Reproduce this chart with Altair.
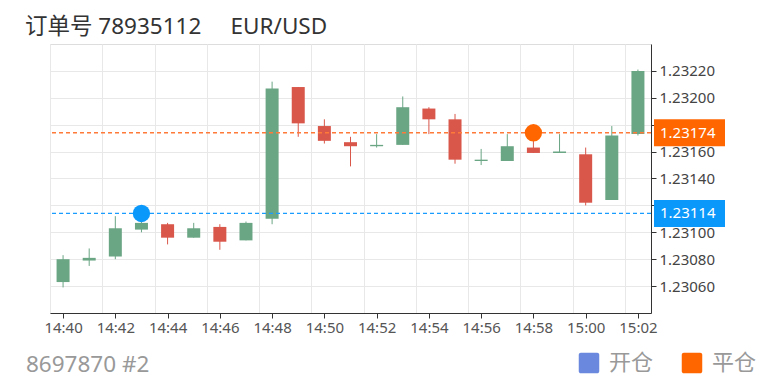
import altair as alt
import pandas as pd

# ---------------- data ----------------
TIMES = ["14:40", "14:41", "14:42", "14:43", "14:44", "14:45", "14:46", "14:47",
         "14:48", "14:49", "14:50", "14:51", "14:52", "14:53", "14:54", "14:55",
         "14:56", "14:57", "14:58", "14:59", "15:00", "15:01", "15:02"]
OPEN = [1.23063, 1.23079, 1.23082, 1.23102, 1.23106, 1.23096, 1.23104, 1.23094,
        1.23110, 1.23208, 1.23179, 1.23167, 1.23164, 1.23165, 1.23192, 1.23184,
        1.23153, 1.23153, 1.23163, 1.23159, 1.23158, 1.23124, 1.23173]
CLOSE = [1.23080, 1.23081, 1.23103, 1.23107, 1.23096, 1.23103, 1.23093, 1.23107,
         1.23207, 1.23181, 1.23168, 1.23164, 1.23165, 1.23193, 1.23184, 1.23154,
         1.23154, 1.23164, 1.23159, 1.23160, 1.23122, 1.23172, 1.23220]
HIGH = [1.23083, 1.23088, 1.23112, 1.23109, 1.23107, 1.23107, 1.23106, 1.23108,
        1.23212, 1.23208, 1.23184, 1.23171, 1.23173, 1.23201, 1.23193, 1.23188,
        1.23162, 1.23173, 1.23172, 1.23173, 1.23163, 1.23179, 1.23221]
LOW = [1.23059, 1.23075, 1.23080, 1.23100, 1.23091, 1.23096, 1.23087, 1.23094,
       1.23106, 1.23171, 1.23166, 1.23149, 1.23163, 1.23165, 1.23173, 1.23151,
       1.23150, 1.23153, 1.23159, 1.23159, 1.23120, 1.23124, 1.23172]

MARK_KIND = ["开仓", "平仓"]
MARK_TIME = [3, 18]
MARK_PRICE = [1.23114, 1.23174]
MARK_COLOR = ["#0a98fb", "#ff6600"]
LINE_COLOR = ["#1a9cff", "#ff7a38"]
LEGEND_COLOR = ["#6a88de", "#ff6600"]

Y_TICKS = [1.2306, 1.2308, 1.2310, 1.2312, 1.2314, 1.2316, 1.2318, 1.2320, 1.2322]
Y_DOMAIN = [1.2304, 1.2324]

TITLE = "订单号 78935112\u00a0\u00a0\u00a0\u00a0\u00a0EUR/USD"
FOOTER = "8697870 #2"

GREEN = "#6aa584"
RED = "#d9564a"
FONT = "Noto Sans, Noto Sans CJK SC"

# ---------------- tables ----------------
df = pd.DataFrame({"i": list(range(len(TIMES))), "t": TIMES, "open": OPEN,
                   "close": CLOSE, "high": HIGH, "low": LOW})
marks = pd.DataFrame({"kind": MARK_KIND, "i": MARK_TIME, "price": MARK_PRICE,
                      "c": MARK_COLOR, "lc": LINE_COLOR,
                      "label": [f"{p:.5f}" for p in MARK_PRICE]})

label_expr = "[" + ",".join(f"'{t}'" for t in TIMES) + "][datum.value]"

xscale = alt.Scale(domain=[-0.5, len(TIMES) - 0.5], nice=False, zero=False, padding=0)
yscale = alt.Scale(domain=Y_DOMAIN, nice=False, zero=False)

x_axis = alt.Axis(values=list(range(0, len(TIMES), 2)), labelExpr=label_expr,
                  grid=False, title=None, domainColor="#333", tickColor="#333",
                  tickSize=5, labelColor="#555", labelFontSize=15, labelPadding=2,
                  labelFlush=False)
grid_axis = alt.Axis(orient="top", values=[v - 0.5 for v in range(0, len(TIMES), 2)],
                     grid=True, gridColor="#e8e8e8", labels=False, ticks=False,
                     domain=False, title=None)
y_axis = alt.Axis(orient="right", values=Y_TICKS, format=".5f", grid=True,
                  gridColor="#e8e8e8", title=None, domainColor="#333",
                  tickColor="#333", tickSize=5, labelColor="#444",
                  labelFontSize=15, labelPadding=3)

color = alt.condition("datum.open <= datum.close", alt.value(GREEN), alt.value(RED))

base = alt.Chart(df)
wick = base.mark_rule(strokeWidth=1).encode(
    x=alt.X("i:Q", scale=xscale, axis=x_axis),
    y=alt.Y("low:Q", scale=yscale, axis=y_axis),
    y2="high:Q",
    color=color,
)
body = base.mark_bar(size=13).encode(
    x=alt.X("i:Q", axis=None),
    y=alt.Y("open:Q", axis=None),
    y2="close:Q",
    color=color,
)

mbase = alt.Chart(marks)
dashed = mbase.mark_rule(strokeDash=[4, 3], strokeWidth=1.3).encode(
    y=alt.Y("price:Q", axis=None),
    color=alt.Color("lc:N", scale=None),
)
points = mbase.mark_point(filled=True, size=300, opacity=1).encode(
    x=alt.X("i:Q", axis=None),
    y=alt.Y("price:Q", axis=None),
    color=alt.Color("c:N", scale=None),
)

ROUNDED = ("M-0.8,-1 H0.8 A0.2,0.2 0 0 1 1,-0.8 V0.8 A0.2,0.2 0 0 1 0.8,1 "
           "H-0.8 A0.2,0.2 0 0 1 -1,0.8 V-0.8 A0.2,0.2 0 0 1 -0.8,-1 Z")
legend_layer = mbase.mark_square(size=0, opacity=1, filled=True).encode(
    x=alt.X("i:Q", axis=grid_axis),
    y=alt.Y("price:Q", axis=None),
    color=alt.Color("kind:N", scale=alt.Scale(domain=MARK_KIND, range=LEGEND_COLOR),
                    legend=alt.Legend(title=None, orient="none", legendX=528,
                                      legendY=308, direction="horizontal",
                                      symbolType=ROUNDED, symbolSize=420,
                                      symbolOpacity=1, symbolStrokeWidth=0,
                                      labelFontSize=22, labelColor="#999",
                                      labelOffset=9, columnPadding=27, padding=0)),
)

label_rect = mbase.transform_calculate(
    hi="datum.price + 0.0001", lo="datum.price - 0.0001"
).mark_rect().encode(
    x=alt.value(604), x2=alt.value(675),
    y=alt.Y("hi:Q", axis=None), y2="lo:Q",
    color=alt.Color("c:N", scale=None),
)
label_text = mbase.mark_text(align="left", baseline="middle", fontSize=15,
                             color="white").encode(
    x=alt.value(610), y=alt.Y("price:Q", axis=None), text="label:N")

title = alt.Chart(pd.DataFrame({"t": [TITLE]})).mark_text(
    align="left", baseline="alphabetic", fontSize=22.5, color="#333"
).encode(x=alt.value(-25), y=alt.value(-10), text="t:N")
footer = alt.Chart(pd.DataFrame({"t": [FOOTER]})).mark_text(
    align="left", baseline="alphabetic", fontSize=22.5, color="#999"
).encode(x=alt.value(-24), y=alt.value(328), text="t:N")

chart = alt.layer(
    wick, body, dashed, points, legend_layer, label_rect, label_text, title, footer
).resolve_axis(x="independent", y="independent").properties(
    width=601, height=269,
    padding={"left": 42, "top": 36, "right": 116, "bottom": 66},
    autosize=alt.AutoSizeParams(type="none"),
).configure_view(stroke="#e8e8e8").configure(font=FONT)

chart.save("out.html", embed_options={"renderer": "svg", "actions": False})
